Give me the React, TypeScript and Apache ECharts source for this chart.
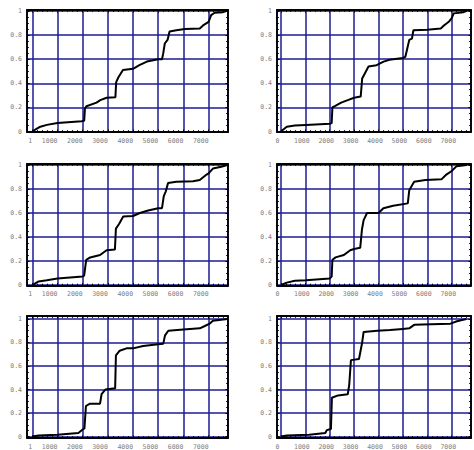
import React, { useEffect, useRef } from "react";
import * as echarts from "echarts";

// Tick labels
const leftTickLabels = ["1", "1000", "2000", "3000", "4000", "5000", "6000", "7000"];
const rightTickLabels = ["0", "1000", "2000", "3000", "4000", "5000", "6000", "7000"];
const yTickLabels = ["0", "0.2", "0.4", "0.6", "0.8", "1"];

// Panel 1 (top-left)
const curve1X = [0, 150, 320, 580, 1000, 1960, 2060, 2090, 2150, 2550, 2700, 2950, 3300, 3330, 3420, 3600, 4000, 4250, 4550, 5000, 5150, 5200, 5260, 5370, 5450, 5720, 6060, 6650, 6780, 7000, 7100, 7240, 7570, 7700];
const curve1Y = [0, 0.02, 0.04, 0.055, 0.07, 0.085, 0.09, 0.19, 0.21, 0.24, 0.26, 0.28, 0.285, 0.41, 0.45, 0.51, 0.52, 0.55, 0.58, 0.6, 0.6, 0.65, 0.73, 0.76, 0.83, 0.84, 0.85, 0.855, 0.88, 0.91, 0.965, 0.985, 0.99, 1.0];

// Panel 2 (top-right)
const curve2X = [0, 240, 570, 1030, 2000, 2080, 2110, 2210, 2470, 2740, 3000, 3270, 3330, 3460, 3590, 3920, 4210, 4450, 5000, 5100, 5170, 5260, 5370, 5430, 6000, 6550, 6680, 6880, 7000, 7080, 7480, 7600];
const curve2Y = [0, 0.04, 0.05, 0.055, 0.065, 0.07, 0.2, 0.21, 0.24, 0.26, 0.28, 0.29, 0.44, 0.49, 0.54, 0.55, 0.58, 0.595, 0.61, 0.62, 0.68, 0.76, 0.77, 0.84, 0.845, 0.855, 0.88, 0.91, 0.94, 0.98, 0.99, 1.0];

// Panel 3 (middle-left)
const curve3X = [0, 250, 580, 1000, 2000, 2060, 2140, 2300, 2690, 2950, 3280, 3320, 3450, 3610, 4000, 4270, 4600, 5000, 5150, 5220, 5300, 5390, 5720, 6380, 6650, 6920, 7000, 7170, 7500, 7740];
const curve3Y = [0, 0.03, 0.04, 0.055, 0.07, 0.08, 0.21, 0.23, 0.25, 0.29, 0.295, 0.47, 0.51, 0.57, 0.575, 0.6, 0.62, 0.64, 0.64, 0.74, 0.78, 0.85, 0.86, 0.865, 0.875, 0.92, 0.93, 0.97, 0.985, 1.0];

// Panel 4 (middle-right)
const curve4X = [0, 240, 570, 1030, 2000, 2080, 2110, 2240, 2580, 2840, 3000, 3250, 3320, 3390, 3530, 4000, 4200, 4600, 5200, 5260, 5460, 5920, 6580, 6780, 7000, 7200, 7600];
const curve4Y = [0, 0.02, 0.035, 0.04, 0.055, 0.07, 0.21, 0.23, 0.25, 0.29, 0.3, 0.31, 0.46, 0.54, 0.6, 0.6, 0.64, 0.66, 0.68, 0.79, 0.86, 0.875, 0.88, 0.92, 0.95, 0.99, 1.0];

// Panel 5 (bottom-left)
const curve5X = [0, 250, 1000, 1830, 2000, 2070, 2130, 2290, 2690, 2750, 2900, 3290, 3320, 3470, 3740, 4000, 4400, 5000, 5200, 5270, 5400, 6000, 6650, 6850, 7040, 7170, 7740];
const curve5Y = [0, 0.01, 0.015, 0.03, 0.06, 0.07, 0.26, 0.28, 0.28, 0.36, 0.4, 0.41, 0.69, 0.73, 0.75, 0.75, 0.77, 0.785, 0.79, 0.86, 0.9, 0.91, 0.92, 0.94, 0.96, 0.985, 1.0];

// Panel 6 (bottom-right)
const curve6X = [0, 240, 1160, 1820, 1880, 2050, 2090, 2340, 2740, 2800, 2870, 3200, 3330, 3390, 3950, 4470, 5000, 5260, 5460, 6160, 6950, 7210, 7600];
const curve6Y = [0, 0.01, 0.015, 0.03, 0.055, 0.065, 0.33, 0.35, 0.36, 0.44, 0.65, 0.66, 0.8, 0.89, 0.9, 0.905, 0.915, 0.92, 0.95, 0.955, 0.96, 0.98, 1.0];

const curvesX = [curve1X, curve2X, curve3X, curve4X, curve5X, curve6X];
const curvesY = [curve1Y, curve2Y, curve3Y, curve4Y, curve5Y, curve6Y];

// Layout
const colLeft = [27, 277];
const colXRange = [[-210, 7770], [-160, 7790]];
const rowTop = [10, 164, 316];
const rowHeight = [122, 121.5, 124];
const rowYRange = [[-0.004, 1.008], [-0.004, 1.008], [-0.012, 1.025]];
const PLOT_W = 201;

const GRID_COLOR = "#1c1c96";
const LABEL_COLOR = "#808080";
const FONT = "DejaVu Sans Mono";

function xFormatter(labels: string[]) {
  return (v: number) => {
    const idx = Math.round(v / 1000);
    if (Math.abs(v - idx * 1000) > 1e-6 || idx < 0 || idx >= labels.length) return "";
    return labels[idx];
  };
}
function yFormatter(v: number) {
  const idx = Math.round(v / 0.2);
  if (Math.abs(v - idx * 0.2) > 1e-6 || idx < 0 || idx >= yTickLabels.length) return "";
  return yTickLabels[idx];
}

function buildOption() {
  const grid: any[] = [];
  const xAxis: any[] = [];
  const yAxis: any[] = [];
  const series: any[] = [];
  for (let i = 0; i < 6; i++) {
    const r = Math.floor(i / 2);
    const c = i % 2;
    grid.push({ left: colLeft[c], top: rowTop[r], width: PLOT_W, height: rowHeight[r], containLabel: false });
    const [xmin, xmax] = colXRange[c];
    const [ymin, ymax] = rowYRange[r];
    const frameLine = { show: true, onZero: false, lineStyle: { color: "#000", width: 1.8 } };
    const tick = { show: true, inside: true, length: 2.5, lineStyle: { color: "#000", width: 1 } };
    xAxis.push({
      type: "value", gridIndex: i, position: "bottom", min: xmin, max: xmax,
      minInterval: 1000, maxInterval: 1000,
      axisLine: frameLine, axisTick: tick,
      minorTick: { show: true, splitNumber: 5, length: 1.8, lineStyle: { color: "#000", width: 1 } },
      splitLine: { show: true, lineStyle: { color: GRID_COLOR, width: 1.5 } },
      axisLabel: {
        show: true, margin: 5, fontSize: 6.5, fontFamily: FONT, color: LABEL_COLOR,
        align: c === 0 ? "right" : "center",
        padding: c === 0 ? [0, 0, 0, 0] : [0, 7, 0, 0],
        formatter: xFormatter(c === 0 ? leftTickLabels : rightTickLabels),
      },
    });
    xAxis.push({
      type: "value", gridIndex: i, position: "top", min: xmin, max: xmax,
      minInterval: 1000, maxInterval: 1000,
      axisLine: frameLine, axisTick: tick,
      minorTick: { show: true, splitNumber: 5, length: 1.8, lineStyle: { color: "#000", width: 1 } },
      splitLine: { show: false }, axisLabel: { show: false },
    });
    yAxis.push({
      type: "value", gridIndex: i, position: "left", min: ymin, max: ymax,
      minInterval: 0.2, maxInterval: 0.2,
      axisLine: frameLine, axisTick: tick,
      minorTick: { show: true, splitNumber: 4, length: 1.8, lineStyle: { color: "#000", width: 1 } },
      splitLine: { show: true, lineStyle: { color: GRID_COLOR, width: 1.5 } },
      axisLabel: {
        show: true, margin: 5, fontSize: 6.5, fontFamily: FONT, color: LABEL_COLOR,
        formatter: yFormatter,
      },
    });
    yAxis.push({
      type: "value", gridIndex: i, position: "right", min: ymin, max: ymax,
      minInterval: 0.2, maxInterval: 0.2,
      axisLine: frameLine, axisTick: tick,
      minorTick: { show: true, splitNumber: 4, length: 1.8, lineStyle: { color: "#000", width: 1 } },
      splitLine: { show: false }, axisLabel: { show: false },
    });
    const xs = curvesX[i];
    const ys = curvesY[i];
    series.push({
      type: "line",
      xAxisIndex: 2 * i,
      yAxisIndex: 2 * i,
      data: xs.map((x, k) => [x, ys[k]]),
      showSymbol: false,
      symbol: "none",
      lineStyle: { color: "#000", width: 2 },
      z: 5,
      silent: true,
    });
  }
  return { animation: false, backgroundColor: "#fff", grid, xAxis, yAxis, series };
}

export default function App() {
  const ref = useRef<HTMLDivElement>(null);
  useEffect(() => {
    if (!ref.current) return;
    const chart = echarts.init(ref.current, undefined, { renderer: "svg" });
    chart.setOption(buildOption() as any);
    return () => chart.dispose();
  }, []);
  return (
    <div
      ref={ref}
      style={{ position: "fixed", left: 0, top: 0, width: 474, height: 450, background: "#fff" }}
    />
  );
}
